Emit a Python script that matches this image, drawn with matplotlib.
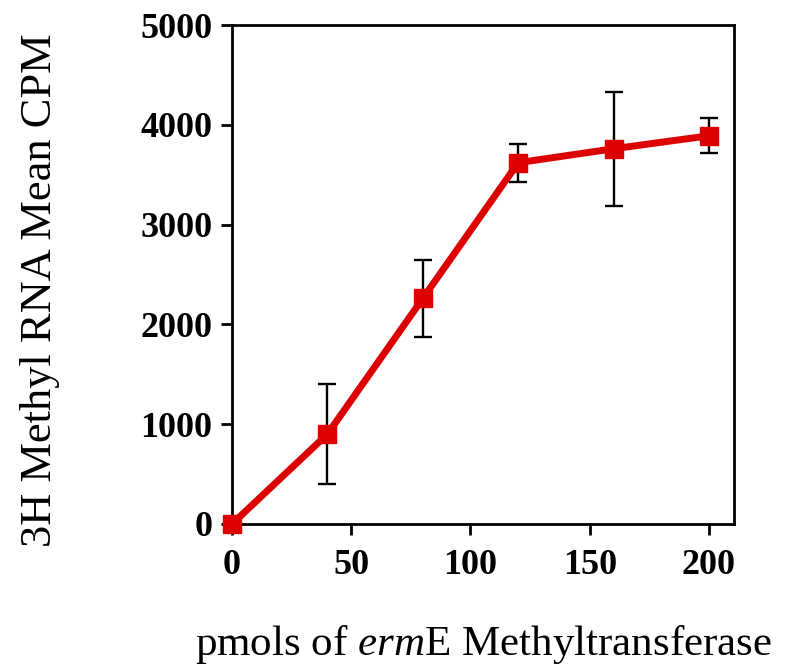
import matplotlib
matplotlib.use("Agg")
import matplotlib.pyplot as plt

# ── Data ──────────────────────────────────────────────────────────────────────
pmols = [0, 40, 80, 120, 160, 200]
cpm = [0, 900, 2260, 3620, 3760, 3890]
cpm_err = [0, 500, 390, 190, 570, 175]

x_ticks = [0, 50, 100, 150, 200]
y_ticks = [0, 1000, 2000, 3000, 4000, 5000]

RED = "#dd0000"
SERIF = ["Liberation Serif", "DejaVu Serif"]

plt.rcParams["mathtext.fontset"] = "custom"
plt.rcParams["mathtext.rm"] = "Liberation Serif"
plt.rcParams["mathtext.it"] = "Liberation Serif:italic"

# ── Figure ────────────────────────────────────────────────────────────────────
fig = plt.figure(figsize=(7.94, 6.69), dpi=100)
ax = fig.add_axes([232 / 794, 1 - 524 / 669, (734 - 232) / 794, (524 - 25) / 669])

# error bars behind the line
ax.errorbar(pmols, cpm, yerr=cpm_err, fmt="none", ecolor="black",
            elinewidth=1.7, capsize=6.5, capthick=1.7, zorder=2)
ax.plot(pmols, cpm, "-s", color=RED, lw=5, markersize=13,
        markerfacecolor=RED, markeredgecolor=RED, zorder=3, clip_on=False)

ax.set_xlim(0, 210.5)
ax.set_ylim(0, 5000)
ax.set_xticks(x_ticks)
ax.set_yticks(y_ticks)

for sp in ax.spines.values():
    sp.set_linewidth(2)
    sp.set_color("black")

ax.tick_params(direction="out", length=8, width=2, pad=6)
ax.tick_params(axis="x", pad=10)
for lbl in ax.get_xticklabels() + ax.get_yticklabels():
    lbl.set_fontfamily(SERIF)
    lbl.set_fontweight("bold")
    lbl.set_fontsize(26)

ax.set_xlabel("pmols of $\\it{erm}$E Methyltransferase", fontsize=31,
              family=SERIF)
ax.set_ylabel("3H Methyl RNA Mean CPM", fontsize=32, family=SERIF)
ax.xaxis.set_label_coords((484 - 232) / 502, (524 - 645) / 499)
ax.yaxis.set_label_coords((40 - 232) / 502, (524 - 290) / 499)
ax.xaxis.label.set_va("center")
ax.yaxis.label.set_va("center")

fig.savefig("out.png", dpi=100, facecolor="white")
